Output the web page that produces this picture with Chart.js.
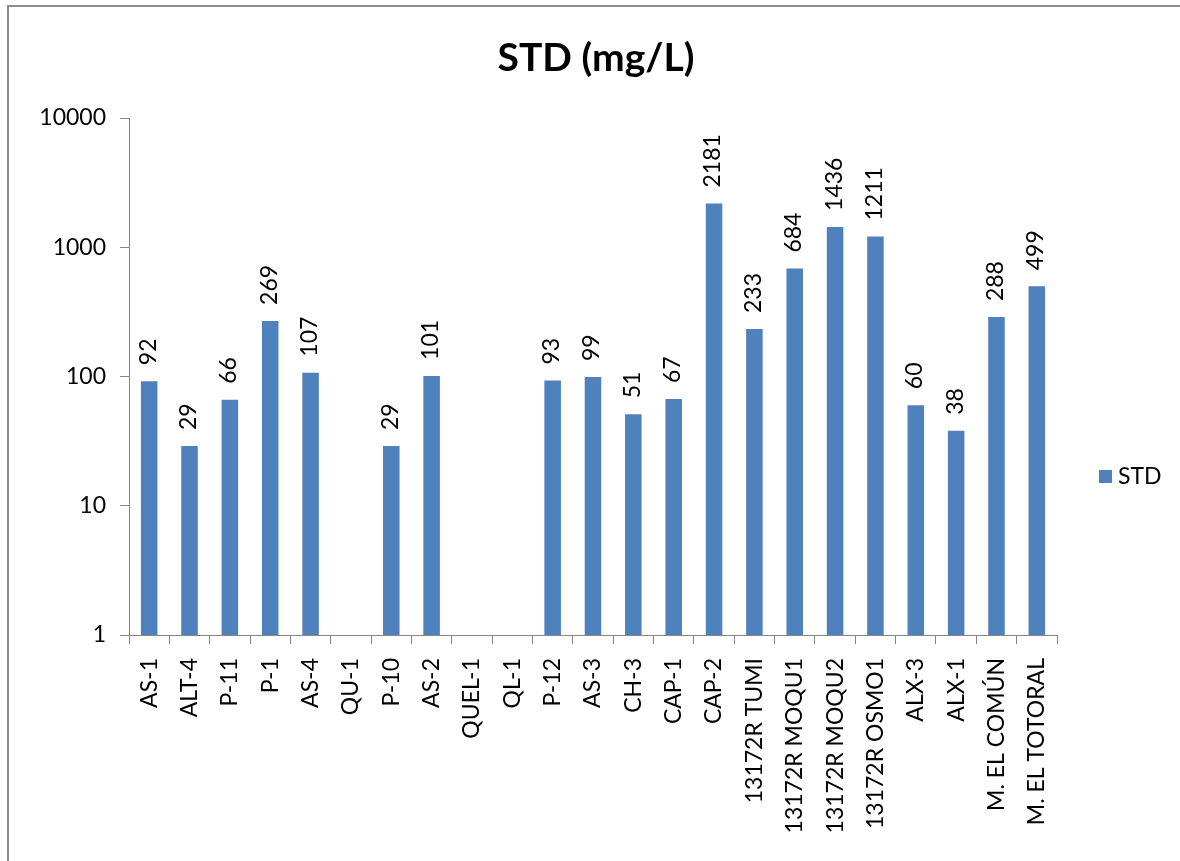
<!DOCTYPE html>
<html>
<head>
<meta charset="utf-8">
<script src="https://cdn.jsdelivr.net/npm/chart.js@4"></script>
<style>
  html, body { margin: 0; padding: 0; background: #ffffff; }
  #wrap { position: relative; width: 1180px; height: 861px; }
</style>
</head>
<body>
<div id="wrap"><canvas id="c" width="1180" height="861"></canvas></div>
<script>
// Sampling points along the x axis
const categories = [
  "AS-1", "ALT-4", "P-11", "P-1", "AS-4", "QU-1", "P-10", "AS-2", "QUEL-1", "QL-1",
  "P-12", "AS-3", "CH-3", "CAP-1", "CAP-2", "13172R TUMI", "13172R MOQU1",
  "13172R MOQU2", "13172R OSMO1", "ALX-3", "ALX-1", "M. EL COMÚN", "M. EL TOTORAL"
];
// Total dissolved solids, mg/L (null = no measurement)
const stdValues = [
  92, 29, 66, 269, 107, null, 29, 101, null, null,
  93, 99, 51, 67, 2181, 233, 684, 1436, 1211, 60, 38, 288, 499
];
const yTicks = [1, 10, 100, 1000, 10000];
const seriesName = "STD";
const chartTitle = "STD (mg/L)";

const FONT = "Lato, 'Open Sans', sans-serif";
const TEXT_SIZE = 23;
const AXIS_GREY = "#868686";
const BAR_BLUE = "#4F81BD";

// Frame, title, value labels and legend drawn on the canvas
const decorations = {
  id: "decorations",
  beforeDraw(chart) {
    const ctx = chart.ctx;
    ctx.save();
    ctx.fillStyle = "#ffffff";
    ctx.fillRect(0, 0, chart.width, chart.height);
    ctx.strokeStyle = "#8c8c8c";
    ctx.lineWidth = 2;
    ctx.beginPath();
    ctx.moveTo(8, 861);
    ctx.lineTo(8, 6);
    ctx.lineTo(1180, 6);
    ctx.stroke();
    ctx.restore();
  },
  afterDatasetsDraw(chart) {
    const ctx = chart.ctx;
    ctx.save();
    // title
    ctx.fillStyle = "#000000";
    ctx.font = "bold 39px " + FONT;
    ctx.textAlign = "center";
    ctx.textBaseline = "middle";
    ctx.fillText(chartTitle, 596, 58);

    // value labels above each bar, reading upward
    const meta = chart.getDatasetMeta(0);
    const data = chart.data.datasets[0].data;
    ctx.font = TEXT_SIZE + "px " + FONT;
    meta.data.forEach((bar, i) => {
      const v = data[i];
      if (v === null || v === undefined) return;
      ctx.save();
      ctx.translate(bar.x - 1, bar.y - 16);
      ctx.rotate(-Math.PI / 2);
      ctx.textAlign = "left";
      ctx.textBaseline = "middle";
      ctx.fillText(String(v), 0, 0);
      ctx.restore();
    });

    // legend on the right
    const ds = chart.data.datasets[0];
    ctx.fillStyle = ds.backgroundColor;
    ctx.fillRect(1099, 470, 13, 13);
    ctx.fillStyle = "#000000";
    ctx.font = TEXT_SIZE + "px " + FONT;
    ctx.textAlign = "left";
    ctx.textBaseline = "middle";
    ctx.fillText(ds.label, 1118, 477);
    ctx.restore();
  }
};

new Chart(document.getElementById("c"), {
  type: "bar",
  data: {
    labels: categories,
    datasets: [{
      label: seriesName,
      data: stdValues,
      backgroundColor: BAR_BLUE,
      borderWidth: 0,
      barPercentage: 0.41,
      categoryPercentage: 1.0
    }]
  },
  options: {
    responsive: false,
    animation: false,
    events: [],
    layout: { padding: { left: 0, right: 123, top: 118, bottom: 0 } },
    plugins: {
      legend: { display: false },
      title: { display: false },
      tooltip: { enabled: false }
    },
    scales: {
      x: {
        type: "category",
        offset: true,
        grid: {
          offset: true,
          drawOnChartArea: false,
          drawTicks: true,
          tickLength: 9,
          color: AXIS_GREY
        },
        border: { color: AXIS_GREY, width: 1 },
        ticks: {
          color: "#000000",
          font: { family: FONT, size: TEXT_SIZE },
          minRotation: 90,
          maxRotation: 90,
          autoSkip: false,
          padding: 14
        },
        afterFit(scale) { scale.height = 861 - 635; }
      },
      y: {
        type: "logarithmic",
        min: 1,
        max: 10000,
        afterBuildTicks(scale) {
          scale.ticks = yTicks.map(v => ({ value: v }));
        },
        grid: {
          drawOnChartArea: false,
          drawTicks: true,
          tickLength: 9,
          color: AXIS_GREY
        },
        border: { color: AXIS_GREY, width: 1 },
        ticks: {
          color: "#000000",
          font: { family: FONT, size: TEXT_SIZE },
          padding: 14,
          callback: (v) => String(v)
        },
        afterFit(scale) { scale.width = 129; }
      }
    }
  },
  plugins: [decorations]
});
</script>
</body>
</html>
